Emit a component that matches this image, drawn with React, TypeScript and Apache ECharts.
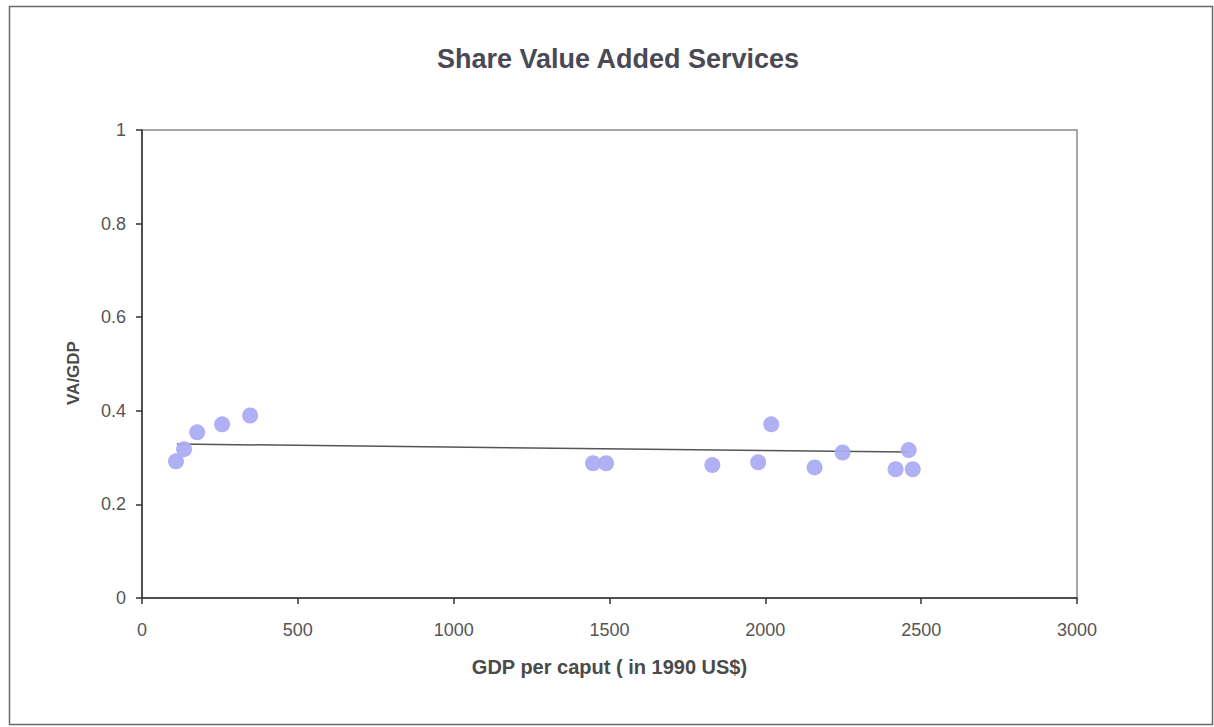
import React, { useEffect, useRef } from "react";
import * as echarts from "echarts";

const gdpPerCaput: number[] = [109, 135, 177, 257, 347, 1447, 1489, 1830, 1977, 2019, 2158, 2248, 2418, 2460, 2473];
const vaShare: number[] = [0.292, 0.318, 0.354, 0.371, 0.39, 0.288, 0.288, 0.284, 0.29, 0.371, 0.279, 0.311, 0.275, 0.316, 0.275];
const trendX: number[] = [112, 2460];
const trendY: number[] = [0.329, 0.312];

const titleText = "Share Value Added Services";
const xTitle = "GDP per caput ( in 1990 US$)";
const yTitle = "VA/GDP";

export default function App() {
  const ref = useRef<HTMLDivElement>(null);
  useEffect(() => {
    if (!ref.current) return;
    const chart = echarts.init(ref.current, undefined, { renderer: "svg" });
    const font = "Liberation Sans, Arial, sans-serif";
    chart.setOption({
      animation: false,
      backgroundColor: "#ffffff",
      title: {
        text: titleText,
        left: 613,
        textAlign: "center",
        top: 40,
        textStyle: { fontFamily: font, fontSize: 27, fontWeight: "bold", color: "#4a4a55" },
      },
      graphic: [
        {
          type: "rect",
          shape: { x: 9.5, y: 6.5, width: 1203, height: 718 },
          style: { fill: "none", stroke: "#6a6a6a", lineWidth: 1.5 },
          silent: true,
          z: -1,
        },
        {
          type: "text",
          x: 73,
          y: 373,
          rotation: Math.PI / 2,
          style: {
            text: yTitle,
            fontFamily: font,
            fontSize: 17,
            fontWeight: "bold",
            fill: "#4a4a4a",
            align: "center",
            verticalAlign: "middle",
          },
          silent: true,
        },
      ],
      grid: {
        left: 142,
        top: 130,
        right: 137,
        bottom: 129,
        show: true,
        borderColor: "#8a8a8a",
        borderWidth: 1.5,
        backgroundColor: "transparent",
      },
      xAxis: {
        type: "value",
        min: 0,
        max: 3000,
        interval: 500,
        name: xTitle,
        nameLocation: "middle",
        nameGap: 59,
        nameTextStyle: { fontFamily: font, fontSize: 20, fontWeight: "bold", color: "#4a4a4a" },
        axisLine: { show: true, onZero: false, lineStyle: { color: "#333", width: 1.5 } },
        axisTick: { show: true, length: 6, lineStyle: { color: "#333", width: 1.5 } },
        axisLabel: {
          fontFamily: font,
          fontSize: 18,
          color: "#555",
          margin: 23,
          formatter: (v: number) => String(v),
        },
        splitLine: { show: false },
      },
      yAxis: {
        type: "value",
        min: 0,
        max: 1,
        interval: 0.2,
        axisLine: { show: true, onZero: false, lineStyle: { color: "#333", width: 1.5 } },
        axisTick: { show: true, length: 6, lineStyle: { color: "#333", width: 1.5 } },
        axisLabel: {
          fontFamily: font,
          fontSize: 18,
          color: "#555",
          margin: 16,
          formatter: (v: number) => String(Math.round(v * 10) / 10),
        },
        splitLine: { show: false },
      },
      series: [
        {
          type: "line",
          data: trendX.map((x, i) => [x, trendY[i]]),
          showSymbol: false,
          symbol: "none",
          lineStyle: { color: "#555", width: 1.5 },
          z: 2,
        },
        {
          type: "scatter",
          data: gdpPerCaput.map((x, i) => [x, vaShare[i]]),
          symbol: "circle",
          symbolSize: 16,
          itemStyle: { color: "#acacf4", opacity: 0.95 },
          z: 3,
        },
      ],
    });
    return () => chart.dispose();
  }, []);
  return (
    <div
      ref={ref}
      style={{ position: "absolute", left: 0, top: 0, width: 1214, height: 727 }}
    />
  );
}
